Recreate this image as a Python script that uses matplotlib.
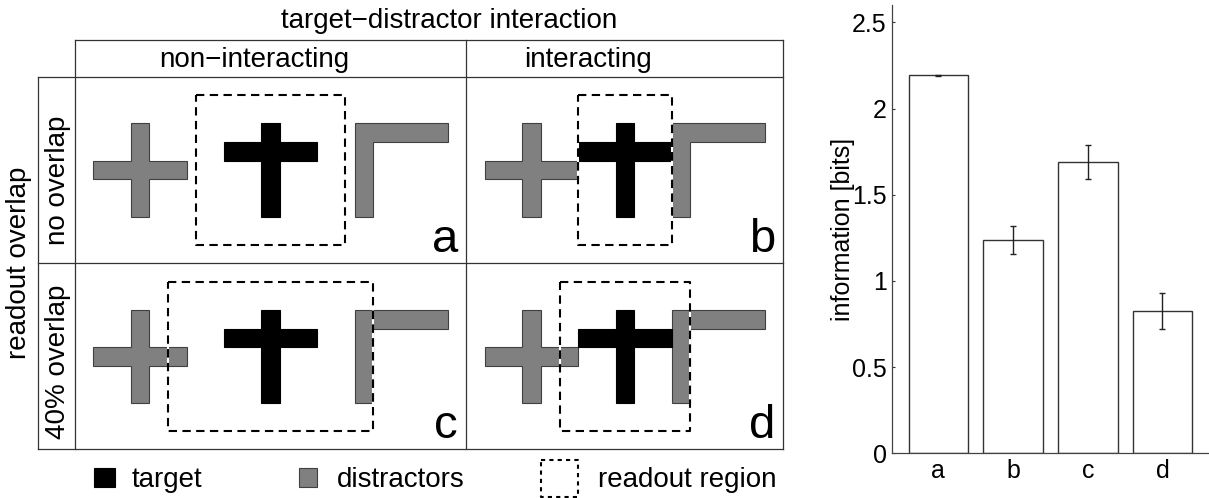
import matplotlib
matplotlib.use('Agg')
import matplotlib.pyplot as plt
from matplotlib.patches import Polygon

plt.rcParams['font.family'] = ['Liberation Sans', 'DejaVu Sans']

# --- bar chart data ---
conditions = ['a', 'b', 'c', 'd']
info_bits = [2.193, 1.237, 1.690, 0.825]
info_err = [0.002, 0.082, 0.100, 0.103]
yticks = [0, 0.5, 1, 1.5, 2, 2.5]
ytick_labels = ['0', '0.5', '1', '1.5', '2', '2.5']

# --- diagram text ---
col_title = 'target\u2212distractor interaction'
row_title = 'readout overlap'
col_labels = ['non\u2212interacting', 'interacting']
row_labels = ['no overlap', '40% overlap']
legend_labels = ['target', 'distractors', 'readout region']

# stimulus left edges (bar-width units): distractor cross, target, L distractor
stim_x = {'non': (0, 7, 14), 'int': (0, 5, 10)}
# readout region extent per panel (bar-width units)
readout_x = {'a': (5.5, 13.5), 'b': (5, 10), 'c': (4, 15), 'd': (4, 11)}
readout_y = (-1.5, 6.5)

# shape outlines in bar-width units
CROSS = [(2, 0), (3, 0), (3, 2), (5, 2), (5, 3), (3, 3), (3, 5), (2, 5), (2, 3), (0, 3), (0, 2), (2, 2)]
TARGET = [(2, 0), (3, 0), (3, 1), (5, 1), (5, 2), (3, 2), (3, 5), (2, 5), (2, 2), (0, 2), (0, 1), (2, 1)]
ELL = [(0, 0), (5, 0), (5, 1), (1, 1), (1, 5), (0, 5)]

U = 18.67  # px per bar width
GRAY = '#808080'
LINE = '#333333'

fig = plt.figure(figsize=(12.09, 4.98), dpi=100)
ax = fig.add_axes([0, 0, 1, 1])
ax.set_xlim(0, 1209)
ax.set_ylim(498, 0)
ax.axis('off')

# table grid
X0, XH, XM, XR = 37.7, 75, 466, 783
YT, YH, YM, YB = 39.5, 77, 263, 449
for y in (YH, YM, YB):
    ax.plot([X0, XR], [y, y], color=LINE, lw=0.9)
ax.plot([XH, XR], [YT, YT], color=LINE, lw=0.9)
for x in (XH, XM, XR):
    ax.plot([x, x], [YT, YB], color=LINE, lw=0.9)
ax.plot([X0, X0], [YH, YB], color=LINE, lw=0.9)

ax.text(449.5, 28, col_title, ha='center', va='baseline', fontsize=20)
ax.text(254.7, 66.5, col_labels[0], ha='center', va='baseline', fontsize=20)
ax.text(587.5, 66.5, col_labels[1], ha='center', va='baseline', fontsize=20)
ax.text(19, 263, row_title, rotation=90, ha='center', va='center', fontsize=20)
ax.text(58, 180, row_labels[0], rotation=90, ha='center', va='center', fontsize=20)
ax.text(58, 362, row_labels[1], rotation=90, ha='center', va='center', fontsize=20)

panels = [
    ('a', 'non', 93.3, 123.3, XM, YM),
    ('b', 'int', 485.0, 123.3, XR, YM),
    ('c', 'non', 93.3, 310.0, XM, YB),
    ('d', 'int', 485.0, 310.0, XR, YB),
]


def to_px(pts, ox, oy, dx):
    return [(ox + (u + dx) * U, oy + v * U) for u, v in pts]


for name, kind, ox, oy, cell_r, cell_b in panels:
    xc, xt, xl = stim_x[kind]
    ax.add_patch(Polygon(to_px(CROSS, ox, oy, xc), closed=True, fc=GRAY, ec='#404040', lw=0.8, zorder=2))
    ax.add_patch(Polygon(to_px(ELL, ox, oy, xl), closed=True, fc=GRAY, ec='#404040', lw=0.8, zorder=2))
    ax.add_patch(Polygon(to_px(TARGET, ox, oy, xt), closed=True, fc='black', ec='black', lw=0.8, zorder=3))
    r0, r1 = readout_x[name]
    rx = [ox + r0 * U, ox + r1 * U, ox + r1 * U, ox + r0 * U, ox + r0 * U]
    ry = [oy + readout_y[0] * U, oy + readout_y[0] * U, oy + readout_y[1] * U,
          oy + readout_y[1] * U, oy + readout_y[0] * U]
    ax.plot(rx, ry, color='black', lw=1.5, ls=(0, (4, 2.6)), gapcolor='white', zorder=4)
    ax.text(cell_r - 8, cell_b - 11, name, ha='right', va='baseline', fontsize=34)

# legend
ax.add_patch(Polygon([(93.5, 467.5), (115, 467.5), (115, 486.5), (93.5, 486.5)], fc='black', ec='black', lw=0.8))
ax.text(131.5, 486.5, legend_labels[0], ha='left', va='baseline', fontsize=20)
ax.add_patch(Polygon([(298.5, 467.5), (316.5, 467.5), (316.5, 486.5), (298.5, 486.5)], fc=GRAY, ec='#404040', lw=0.8))
ax.text(336.5, 486.5, legend_labels[1], ha='left', va='baseline', fontsize=20)
ax.plot([540.5, 578, 578, 540.5, 540.5], [459.5, 459.5, 496.5, 496.5, 459.5],
        color='black', lw=1.5, ls=(0, (2, 2)))
ax.text(598.3, 486.5, legend_labels[2], ha='left', va='baseline', fontsize=20)

# bar chart
bx = fig.add_axes([891.7 / 1209, (498 - 453.3) / 498, 316.3 / 1209, (453.3 - 5.1) / 498])
pos = list(range(1, len(conditions) + 1))
bx.bar(pos, info_bits, width=0.8, color='white', edgecolor=LINE, linewidth=1.0)
bx.errorbar(pos, info_bits, yerr=info_err, fmt='none', ecolor='#222222', elinewidth=1.0, capsize=2.5, capthick=1.0)
bx.set_xlim(0.375, 4.61)
bx.set_ylim(0, 2.6)
bx.set_xticks(pos)
bx.set_xticklabels(conditions)
bx.set_yticks(yticks)
bx.set_yticklabels(ytick_labels)
bx.tick_params(axis='y', direction='in', length=2.5, width=0.8, pad=3.5, labelsize=18, color=LINE)
bx.tick_params(axis='x', length=0, pad=4, labelsize=18)
for s in ('top', 'right'):
    bx.spines[s].set_visible(False)
for s in ('left', 'bottom'):
    bx.spines[s].set_color('#444444')
    bx.spines[s].set_linewidth(0.9)
bx.set_ylabel('information [bits]', fontsize=18)
bx.yaxis.set_label_coords(-0.116, 0.5)
bx.patch.set_alpha(0)

fig.savefig('out.png', dpi=100)
